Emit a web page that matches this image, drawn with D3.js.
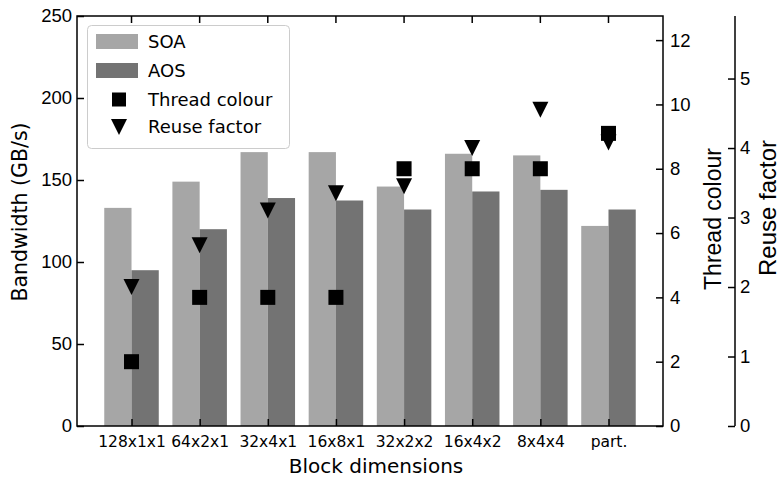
<!DOCTYPE html>
<html lang="en">
<head>
  <meta charset="UTF-8">
  <title>Block dimensions bandwidth</title>
  <script src="https://d3js.org/d3.v7.min.js"></script>
  <style>
    body { margin: 0; padding: 0; background: #fff; }
    svg { display: block; }
    .tick-y { font-family: "Liberation Sans", Arial, sans-serif; font-size: 18.5px; }
    .tick-x { font-family: "DejaVu Sans", sans-serif; font-size: 15.5px; }
  </style>
</head>
<body>
  <div id="chart"></div>
  <script>
    const categories = ['128x1x1', '64x2x1', '32x4x1', '16x8x1', '32x2x2', '16x4x2', '8x4x4', 'part.'];
    const soa = [133, 149, 167, 167, 146, 166, 165, 122];
    const aos = [95, 120, 139, 137.5, 132, 143, 144, 132];
    const threadColour = [2, 4, 4, 4, 8, 8, 8, 9.1];
    const reuseFactor = [2.0, 2.6, 3.1, 3.35, 3.45, 4.0, 4.55, 4.08];

    const bwTicks = [0, 50, 100, 150, 200, 250];
    const threadTicks = [0, 2, 4, 6, 8, 10, 12];
    const reuseTicks = [0, 1, 2, 3, 4, 5];

    const width = 780, height = 478;
    const plotLeft = 77, plotRight = 663, plotTop = 16, plotBottom = 426;
    const reuseX = 735;

    const soaColor = '#a6a6a6';
    const aosColor = '#737373';

    const svg = d3.select('#chart').append('svg')
      .attr('width', width)
      .attr('height', height);

    const x = d3.scaleLinear().domain([-0.8, 7.8]).range([plotLeft, plotRight]);
    const yBw = d3.scaleLinear().domain([0, 250]).range([plotBottom, plotTop]);
    const yThread = d3.scaleLinear().domain([0, 12.75]).range([plotBottom, plotTop]);
    const yReuse = d3.scaleLinear().domain([0, 5.9]).range([plotBottom, plotTop]);
    const barW = 0.4;

    // bars
    svg.append('g').selectAll('rect')
      .data(soa)
      .enter().append('rect')
      .attr('x', (d, i) => x(i - barW))
      .attr('width', (d, i) => x(i) - x(i - barW))
      .attr('y', d => yBw(d))
      .attr('height', d => yBw(0) - yBw(d))
      .attr('fill', soaColor);

    svg.append('g').selectAll('rect')
      .data(aos)
      .enter().append('rect')
      .attr('x', (d, i) => x(i))
      .attr('width', (d, i) => x(i + barW) - x(i))
      .attr('y', d => yBw(d))
      .attr('height', d => yBw(0) - yBw(d))
      .attr('fill', aosColor);

    const sq = 15;
    const triangle = (cx, cy, s) => `M${cx - s / 2},${cy - s / 2}L${cx + s / 2},${cy - s / 2}L${cx},${cy + s / 2}Z`;

    // markers
    svg.append('g').selectAll('rect')
      .data(threadColour)
      .enter().append('rect')
      .attr('x', (d, i) => x(i) - sq / 2)
      .attr('y', d => yThread(d) - sq / 2)
      .attr('width', sq)
      .attr('height', sq)
      .attr('fill', '#000');

    svg.append('g').selectAll('path')
      .data(reuseFactor)
      .enter().append('path')
      .attr('d', (d, i) => triangle(x(i), yReuse(d), 16))
      .attr('fill', '#000');

    // frame
    svg.append('rect')
      .attr('x', plotLeft).attr('y', plotTop)
      .attr('width', plotRight - plotLeft).attr('height', plotBottom - plotTop)
      .attr('fill', 'none')
      .attr('stroke', '#000')
      .attr('stroke-width', 1.5);

    const tickLen = 7;

    // left axis
    const gl = svg.append('g').attr('transform', `translate(${plotLeft},0)`);
    gl.call(d3.axisLeft(yBw).tickValues(bwTicks).tickSizeInner(-tickLen).tickSizeOuter(0).tickPadding(5));
    gl.select('.domain').remove();
    gl.selectAll('line').attr('stroke-width', 1.5);
    gl.selectAll('text').attr('class', 'tick-y').attr('font-family', null).attr('font-size', null).attr('fill', '#000');

    // thread colour axis
    const gr = svg.append('g').attr('transform', `translate(${plotRight},0)`);
    gr.call(d3.axisRight(yThread).tickValues(threadTicks).tickSizeInner(-tickLen).tickSizeOuter(0).tickPadding(7));
    gr.select('.domain').remove();
    gr.selectAll('line').attr('stroke-width', 1.5);
    gr.selectAll('text').attr('class', 'tick-y').attr('font-family', null).attr('font-size', null).attr('fill', '#000');

    // reuse factor axis (offset spine)
    const gr2 = svg.append('g').attr('transform', `translate(${reuseX},0)`);
    gr2.call(d3.axisRight(yReuse).tickValues(reuseTicks).tickFormat(d3.format('d'))
      .tickSizeInner(-tickLen).tickSizeOuter(0).tickPadding(5));
    gr2.select('.domain').remove();
    gr2.append('line').attr('x1', 0).attr('x2', 0).attr('y1', plotTop).attr('y2', plotBottom).attr('stroke', '#000');
    gr2.selectAll('line').attr('stroke-width', 1.5);
    gr2.selectAll('text').attr('class', 'tick-y').attr('font-family', null).attr('font-size', null).attr('fill', '#000');

    // bottom axis
    const gb = svg.append('g').attr('transform', `translate(0,${plotBottom})`);
    gb.call(d3.axisBottom(x).tickValues(d3.range(categories.length)).tickFormat(i => categories[i])
      .tickSizeInner(-tickLen).tickSizeOuter(0).tickPadding(9.5));
    gb.select('.domain').remove();
    gb.selectAll('line').attr('stroke-width', 1.5);
    gb.selectAll('text').attr('class', 'tick-x').attr('font-family', null).attr('font-size', null).attr('fill', '#000');

    // top ticks
    svg.append('g').selectAll('line')
      .data(d3.range(categories.length))
      .enter().append('line')
      .attr('x1', d => x(d)).attr('x2', d => x(d))
      .attr('y1', plotTop).attr('y2', plotTop + tickLen)
      .attr('stroke', '#000').attr('stroke-width', 1.5);

    // axis titles
    svg.append('text')
      .attr('x', 376).attr('y', 473)
      .attr('text-anchor', 'middle')
      .style('font-family', '"DejaVu Sans", sans-serif')
      .style('font-size', '20px')
      .text('Block dimensions');

    svg.append('text')
      .attr('transform', 'translate(27,212) rotate(-90)')
      .attr('text-anchor', 'middle')
      .style('font-family', '"DejaVu Sans", sans-serif')
      .style('font-size', '20.5px')
      .text('Bandwidth (GB/s)');

    svg.append('text')
      .attr('transform', 'translate(721,219) rotate(-90)')
      .attr('text-anchor', 'middle')
      .style('font-family', '"Liberation Sans", Arial, sans-serif')
      .style('font-size', '23px')
      .text('Thread colour');

    svg.append('text')
      .attr('transform', 'translate(776,208) rotate(-90)')
      .attr('text-anchor', 'middle')
      .style('font-family', '"Liberation Sans", Arial, sans-serif')
      .style('font-size', '24px')
      .text('Reuse factor');

    // legend
    const legendItems = [
      { label: 'SOA', type: 'patch', color: soaColor },
      { label: 'AOS', type: 'patch', color: aosColor },
      { label: 'Thread colour', type: 'square' },
      { label: 'Reuse factor', type: 'triangle' }
    ];
    const legendRows = [41.5, 70.5, 99.5, 127];

    const lg = svg.append('g');
    lg.append('rect')
      .attr('x', 87.5).attr('y', 25.5)
      .attr('width', 202).attr('height', 123)
      .attr('rx', 4)
      .attr('fill', '#fff').attr('fill-opacity', 0.8)
      .attr('stroke', '#cccccc').attr('stroke-width', 1);

    legendItems.forEach((d, i) => {
      const cy = legendRows[i];
      if (d.type === 'patch') {
        lg.append('rect').attr('x', 96).attr('y', cy - 7.5).attr('width', 42).attr('height', 15).attr('fill', d.color);
      } else if (d.type === 'square') {
        lg.append('rect').attr('x', 119 - 7).attr('y', cy - 7).attr('width', 14).attr('height', 14).attr('fill', '#000');
      } else {
        lg.append('path').attr('d', triangle(119, cy, 16)).attr('fill', '#000');
      }
      lg.append('text')
        .attr('x', 148).attr('y', cy)
        .attr('dy', '0.36em')
        .style('font-family', '"DejaVu Sans", sans-serif')
        .style('font-size', '18px')
        .text(d.label);
    });
  </script>
</body>
</html>
